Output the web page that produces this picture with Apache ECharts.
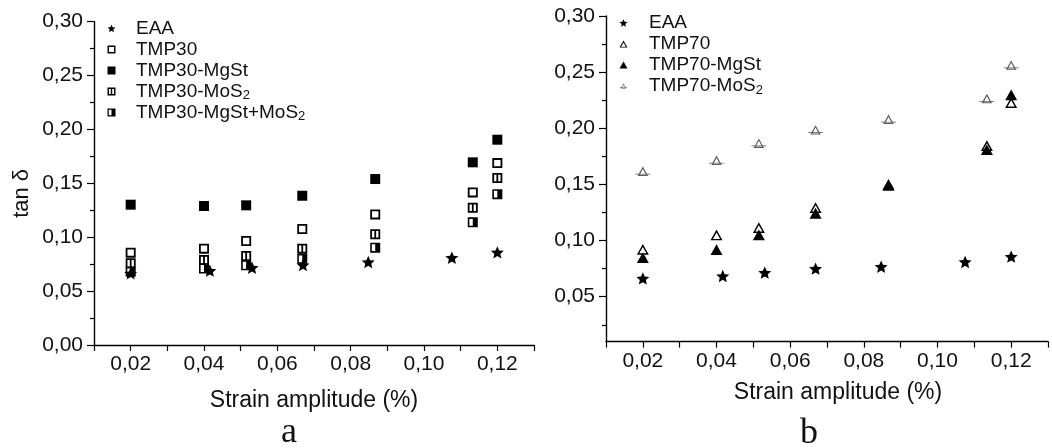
<!DOCTYPE html>
<html><head><meta charset="utf-8">
<script src="https://cdn.jsdelivr.net/npm/echarts@6/dist/echarts.min.js"></script>
<style>html,body{margin:0;padding:0;background:#fff}#c{width:1052px;height:448px}</style>
</head><body><div id="c"></div>
<script>
// ---------- data (panel a) ----------
const strainEAA_a = [0.020, 0.0416, 0.0531, 0.0670, 0.0848, 0.1076, 0.120];
const eaa_a       = [0.0665, 0.0690, 0.0717, 0.0742, 0.0770, 0.0810, 0.0860];
const strainTMP30 = [0.020, 0.040, 0.0515, 0.0668, 0.0867, 0.1133, 0.120];
const tmp30            = [0.0857, 0.0894, 0.0965, 0.1076, 0.1212, 0.1416, 0.1688];
const tmp30MgSt        = [0.1302, 0.1290, 0.1296, 0.1385, 0.1540, 0.1695, 0.1905];
const tmp30MoS2        = [0.0758, 0.0789, 0.0826, 0.0894, 0.1027, 0.1274, 0.1549];
const tmp30MgStMoS2    = [0.0680, 0.0710, 0.0740, 0.0800, 0.0903, 0.1138, 0.1400];
// ---------- data (panel b) ----------
const strainEAA_b = [0.020, 0.0417, 0.0531, 0.0669, 0.0847, 0.1075, 0.120];
const eaa_b       = [0.0663, 0.0684, 0.0714, 0.0750, 0.0767, 0.0809, 0.0857];
const strainTMP70 = [0.020, 0.040, 0.0515, 0.0669, 0.0867, 0.1134, 0.120];
const tmp70       = [0.0922, 0.1050, 0.1115, 0.1293, 0.1500, 0.1846, 0.2229];
const tmp70MgSt   = [0.0848, 0.0919, 0.1050, 0.1243, 0.1492, 0.1810, 0.2298];
const tmp70MoS2   = [0.1617, 0.1715, 0.1867, 0.1986, 0.2080, 0.2265, 0.2562];
// ---------- ticks ----------
const xTickLabels = [0.02, 0.04, 0.06, 0.08, 0.10, 0.12];
const xTicks      = [0.01, 0.02, 0.03, 0.04, 0.05, 0.06, 0.07, 0.08, 0.09, 0.10, 0.11, 0.12, 0.13];
const yTicksA     = [0.00, 0.05, 0.10, 0.15, 0.20, 0.25, 0.30];
const yMinorA     = [0.025, 0.075, 0.125, 0.175, 0.225, 0.275];
const yTicksB     = [0.05, 0.10, 0.15, 0.20, 0.25, 0.30];
const yMinorB     = [0.025, 0.075, 0.125, 0.175, 0.225, 0.275];
const legendA = ['EAA', 'TMP30', 'TMP30-MgSt', 'TMP30-MoS2', 'TMP30-MgSt+MoS2'];
const legendB = ['EAA', 'TMP70', 'TMP70-MgSt', 'TMP70-MoS2'];

// ---------- symbols ----------
const STAR = 'path://M50 0L63.5 31.4L97.55 34.55L71.9 57.1L79.39 90.45L50 72.9L20.61 90.45L28.1 57.1L2.45 34.55L36.5 31.4Z';
const SQ_OPEN = 'path://M0 0H100V100H0Z M18 18V82H82V18Z';
const SQ_FILL = 'path://M0 0H100V100H0Z';
const SQ_HATCH = 'path://M0 0H100V100H0Z M18 18V82H41V18Z M59 18V82H82V18Z';
const SQ_HALF = 'path://M0 0H100V100H0Z M16 16V84H50V16Z';
const TRI_OPEN = 'path://M50 0L100 90L0 90Z M50 25L20.4 78L79.6 78Z';
const TRI_FILL = 'path://M50 0L100 90L0 90Z';
const TRI_BAR = 'path://M50 0L100 90L0 90Z M50 22L18.5 80L81.5 80Z M-22 68H122V75H-22Z';

const FONT = '"Liberation Sans", Arial, sans-serif';
const pts = (xs, ys) => xs.map((x, i) => [x, ys[i]]);
const fmt = v => v.toFixed(2).replace('.', ',');

function sc(name, xi, yi, xs, ys, symbol, size, color) {
  return { type: 'scatter', name, xAxisIndex: xi, yAxisIndex: yi, data: pts(xs, ys),
    symbol, symbolSize: size, symbolKeepAspect: true,
    itemStyle: { color: color || '#000', opacity: 1 }, emphasis: { disabled: true } };
}

function xAx(gi, extra) {
  return Object.assign({
    type: 'value', gridIndex: gi, min: 0.01, max: 0.13,
    axisLine: { onZero: false, lineStyle: { color: '#000', width: 1.4 } },
    axisTick: { customValues: xTicks, length: 6, lineStyle: { color: '#000', width: 1.2 } },
    axisLabel: { customValues: xTickLabels, formatter: fmt, fontFamily: FONT, fontSize: 21, color: '#111', margin: 9 },
    splitLine: { show: false },
    name: 'Strain amplitude (%)', nameLocation: 'middle',
    nameTextStyle: { fontFamily: FONT, fontSize: 23, color: '#111' }
  }, extra);
}
function yAx(gi, min, labels, extra) {
  return Object.assign({
    type: 'value', gridIndex: gi, min, max: 0.30, position: 'left',
    axisLine: { onZero: false, lineStyle: { color: '#000', width: 1.4 } },
    axisTick: { customValues: labels, length: 7, lineStyle: { color: '#000', width: 1.2 } },
    axisLabel: { customValues: labels, formatter: fmt, fontFamily: FONT, fontSize: 21, color: '#111', margin: 11 },
    splitLine: { show: false }
  }, extra);
}
function yMinor(gi, min, ticks) {
  return { type: 'value', gridIndex: gi, min, max: 0.30, position: 'left', offset: 0,
    axisLine: { show: false, onZero: false },
    axisTick: { customValues: ticks, length: 4, lineStyle: { color: '#000', width: 1.2 } },
    axisLabel: { show: false }, splitLine: { show: false } };
}

function legendCfg(names, left, top, pad) {
  return {
    data: names, orient: 'vertical', left, top, padding: 0, itemGap: 0,
    itemWidth: 8, itemHeight: 8, selectedMode: false,
    formatter: n => n.replace('MoS2', 'MoS{s|2}'),
    textStyle: { fontFamily: FONT, fontSize: 19, color: '#111', lineHeight: 21, padding: [0, 0, 0, pad],
      rich: { s: { fontFamily: FONT, fontSize: 13, color: '#111', lineHeight: 8, verticalAlign: 'bottom' } } }
  };
}

const option = {
  backgroundColor: '#fff',
  animation: false,
  grid: [
    { left: 94, top: 21.7, width: 440, height: 323.3 },
    { left: 606, top: 16, width: 442, height: 325.6 }
  ],
  xAxis: [
    xAx(0, { nameGap: 44 }),
    xAx(1, { nameGap: 40, nameTextStyle: { fontFamily: FONT, fontSize: 23, color: '#111', padding: [0, 0, 0, 22] } })
  ],
  yAxis: [
    yAx(0, 0, yTicksA, { name: 'tan δ', nameLocation: 'middle', nameGap: 61,
      nameTextStyle: { fontFamily: FONT, fontSize: 22, color: '#111', padding: [0, 20, 0, 0] } }),
    yMinor(0, 0, yMinorA),
    yAx(1, 0.01, yTicksB),
    yMinor(1, 0.01, yMinorB)
  ],
  legend: [
    legendCfg(legendA, 107.5, 18, 15.5),
    legendCfg(legendB, 619.5, 12.5, 16.5)
  ],
  series: [
    sc('EAA', 0, 0, strainEAA_a, eaa_a, STAR, 13),
    sc('TMP30', 0, 0, strainTMP30, tmp30, SQ_OPEN, 10),
    sc('TMP30-MgSt', 0, 0, strainTMP30, tmp30MgSt, SQ_FILL, 10),
    sc('TMP30-MoS2', 0, 0, strainTMP30, tmp30MoS2, SQ_HATCH, 10),
    sc('TMP30-MgSt+MoS2', 0, 0, strainTMP30, tmp30MgStMoS2, SQ_HALF, 10),
    sc('EAA', 1, 2, strainEAA_b, eaa_b, STAR, 13),
    sc('TMP70', 1, 2, strainTMP70, tmp70, TRI_OPEN, 12),
    sc('TMP70-MgSt', 1, 2, strainTMP70, tmp70MgSt, TRI_FILL, 12),
    sc('TMP70-MoS2', 1, 2, strainTMP70, tmp70MoS2, TRI_BAR, 15, '#5a5a5a')
  ],
  graphic: [
    { type: 'text', left: 281, top: 415, style: { text: 'a', font: '36px "Liberation Serif", "Times New Roman", serif', fill: '#111' } },
    { type: 'text', left: 800, top: 416, style: { text: 'b', font: '36px "Liberation Serif", "Times New Roman", serif', fill: '#111' } }
  ]
};
echarts.init(document.getElementById('c'), null, { renderer: 'canvas' }).setOption(option);
</script>
</body></html>
